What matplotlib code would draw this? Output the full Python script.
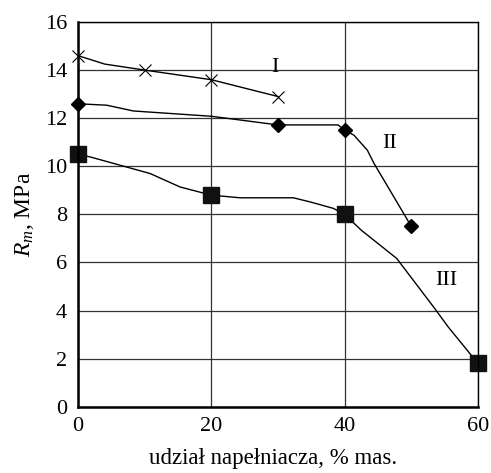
import matplotlib.pyplot as plt

plt.rcParams['font.family'] = ['Liberation Serif', 'DejaVu Serif']
plt.rcParams['mathtext.fontset'] = 'custom'
plt.rcParams['mathtext.rm'] = 'Liberation Serif'
plt.rcParams['mathtext.it'] = 'Liberation Serif:italic'

# Series I (x markers)
x1 = [0, 10, 20, 30]
y1 = [14.6, 14.0, 13.6, 12.9]
x1_line = [0, 4, 10, 20, 30]
y1_line = [14.6, 14.25, 14.0, 13.6, 12.9]

# Series II (diamonds)
x2 = [0, 30, 40, 50]
y2 = [12.6, 11.7, 11.5, 7.5]
x2_line = [0, 4.3, 8.3, 20, 30, 39, 40, 41.4, 43.4, 44.4, 50]
y2_line = [12.6, 12.54, 12.3, 12.08, 11.72, 11.72, 11.5, 11.29, 10.67, 10.12, 7.5]

# Series III (squares)
x3 = [0, 20, 40, 60]
y3 = [10.5, 8.8, 8.0, 1.8]
x3_line = [0, 1.8, 10.8, 15.3, 20, 24.3, 32.3, 34.8, 38.3, 40, 42.5, 47.8, 53.5, 55.5, 60]
y3_line = [10.5, 10.39, 9.7, 9.14, 8.8, 8.69, 8.69, 8.52, 8.25, 8.0, 7.34, 6.17, 4.09, 3.33, 1.8]

labels = ['I', 'II', 'III']
label_pos = [(29.5, 14.1), (46.8, 10.95), (55.3, 5.27)]

fig = plt.figure(figsize=(4.91, 4.73), dpi=100)
ax = fig.add_axes([0.159, 0.140, 0.8145, 0.8135])

ax.set_xlim(0, 60)
ax.set_ylim(0, 16)
ax.set_xticks([0, 20, 40, 60])
ax.set_yticks(range(0, 17, 2))
ax.grid(True, color='#333333', linewidth=0.9)
ax.set_axisbelow(True)
ax.tick_params(length=0, labelsize=16)
ax.tick_params(axis='x', pad=7)
ax.tick_params(axis='y', pad=8)

for s in ['left', 'bottom']:
    ax.spines[s].set_linewidth(1.8)
for s in ['right', 'top']:
    ax.spines[s].set_linewidth(1.0)

ax.plot(x1_line, y1_line, color='black', linewidth=1.0, clip_on=False)
ax.plot(x1, y1, linestyle='none', marker='x', markersize=9, markeredgewidth=0.8,
        color='black', clip_on=False)

ax.plot(x2_line, y2_line, color='black', linewidth=1.0, clip_on=False)
ax.plot(x2, y2, linestyle='none', marker='D', markersize=7, color='black', clip_on=False)

ax.plot(x3_line, y3_line, color='black', linewidth=1.0, clip_on=False)
ax.plot(x3, y3, linestyle='none', marker='s', markersize=11, color='#111111', clip_on=False)

for lab, (lx, ly) in zip(labels, label_pos):
    ax.text(lx, ly, lab, fontsize=16, ha='center', va='center')

ax.set_ylabel('$R_m$, MPa', fontsize=17, labelpad=6)
ax.set_xlabel('udział napełniacza, % mas.', fontsize=16.5)
ax.xaxis.set_label_coords(0.488, -0.108)

plt.savefig('out.png', dpi=100)
